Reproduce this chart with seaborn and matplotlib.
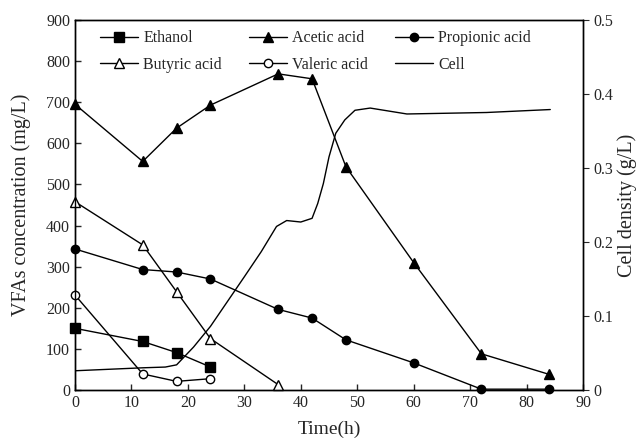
import matplotlib
matplotlib.use("Agg")
import matplotlib.pyplot as plt
import seaborn as sns
import numpy as np
import pandas as pd
from matplotlib.lines import Line2D

time_a = [0, 12, 18, 24]
ethanol = [150, 118, 91, 56]
valeric = [231, 39, 21, 27.5]
time_b = [0, 12, 18, 24, 36]
butyric = [458, 353, 239, 125, 13]
time_c = [0, 12, 18, 24, 36, 42, 48, 60, 72, 84]
acetic = [695, 556, 637, 693, 769, 757, 543, 310, 88, 38]
propionic = [343, 293, 287, 270, 196, 175, 122, 66, 2, 2]

cell_time = [0, 12, 16, 18, 21, 24, 30, 33, 35.7, 37.5, 40, 42, 43, 44, 45, 46.2, 47.8, 49.6, 52.3, 58.8, 72.9, 84.2]
cell = [0.026, 0.030, 0.031, 0.034, 0.058, 0.086, 0.153, 0.187, 0.221, 0.229, 0.227, 0.232, 0.252, 0.279, 0.315, 0.347, 0.365, 0.378, 0.381, 0.373, 0.375, 0.379]

sns.set_style("ticks")
plt.rcParams['font.family'] = ['Liberation Serif', 'DejaVu Serif']
plt.rcParams['font.size'] = 11.5
plt.rcParams['xtick.direction'] = 'in'
plt.rcParams['ytick.direction'] = 'in'

fig = plt.figure(figsize=(6.41, 4.44), dpi=100)
ax = fig.add_axes([75/641, 1 - 390/444, (583-75)/641, (390-20)/444])
ax2 = ax.twinx()

lw = 1.0
series = [
    (time_a, ethanol, 's', 'black', 6.5),
    (time_b, butyric, '^', 'white', 7.5),
    (time_c, acetic, '^', 'black', 7.5),
    (time_a, valeric, 'o', 'white', 6),
    (time_c, propionic, 'o', 'black', 6),
]
for t, v, m, fc, ms in series:
    df = pd.DataFrame({'t': t, 'v': v})
    sns.lineplot(data=df, x='t', y='v', ax=ax, color='black', linewidth=lw,
                 marker=m, markersize=ms, markerfacecolor=fc, markeredgecolor='black',
                 markeredgewidth=1.0, zorder=3, clip_on=False)

dfc = pd.DataFrame({'t': cell_time, 'c': cell})
sns.lineplot(data=dfc, x='t', y='c', ax=ax2, color='black', linewidth=lw)

ax.set_xlim(0, 90)
ax.set_ylim(0, 900)
ax.set_xticks(range(0, 91, 10))
ax.set_yticks(range(0, 901, 100))
ax2.set_ylim(0, 0.5)
ax2.set_yticks([0, 0.1, 0.2, 0.3, 0.4, 0.5])
ax2.set_yticklabels(['0', '0.1', '0.2', '0.3', '0.4', '0.5'])
ax2.tick_params(axis='y', direction='out', length=4)
ax.tick_params(length=4, width=1)
ax.set_xlabel('Time(h)', fontsize=14)
ax.set_ylabel('VFAs concentration (mg/L)', fontsize=14.5)
ax2.set_ylabel('Cell density (g/L)', fontsize=14.5)
ax.xaxis.set_label_coords(0.5, -0.083)
ax.yaxis.set_label_coords(-0.087, 0.5)
ax2.yaxis.set_label_coords(1.068, 0.5)
for a in (ax, ax2):
    for s in a.spines.values():
        s.set_linewidth(1.0)
        s.set_color('black')

handles = [
    Line2D([], [], color='black', lw=lw, marker='s', ms=6.5, mfc='black', mec='black'),
    Line2D([], [], color='black', lw=lw, marker='^', ms=7.5, mfc='white', mec='black'),
    Line2D([], [], color='black', lw=lw, marker='^', ms=7.5, mfc='black', mec='black'),
    Line2D([], [], color='black', lw=lw, marker='o', ms=6, mfc='white', mec='black'),
    Line2D([], [], color='black', lw=lw, marker='o', ms=6, mfc='black', mec='black'),
    Line2D([], [], color='black', lw=lw),
]
labels = ['Ethanol', 'Butyric acid', 'Acetic acid', 'Valeric acid', 'Propionic acid', 'Cell']
ax2.legend(handles, labels, ncol=3, frameon=False, loc='upper left',
           bbox_to_anchor=(0.021, 1.011), handlelength=2.4, handletextpad=0.3,
           columnspacing=1.7, labelspacing=0.65, fontsize=11.5)

fig.savefig('out.png', dpi=100)
